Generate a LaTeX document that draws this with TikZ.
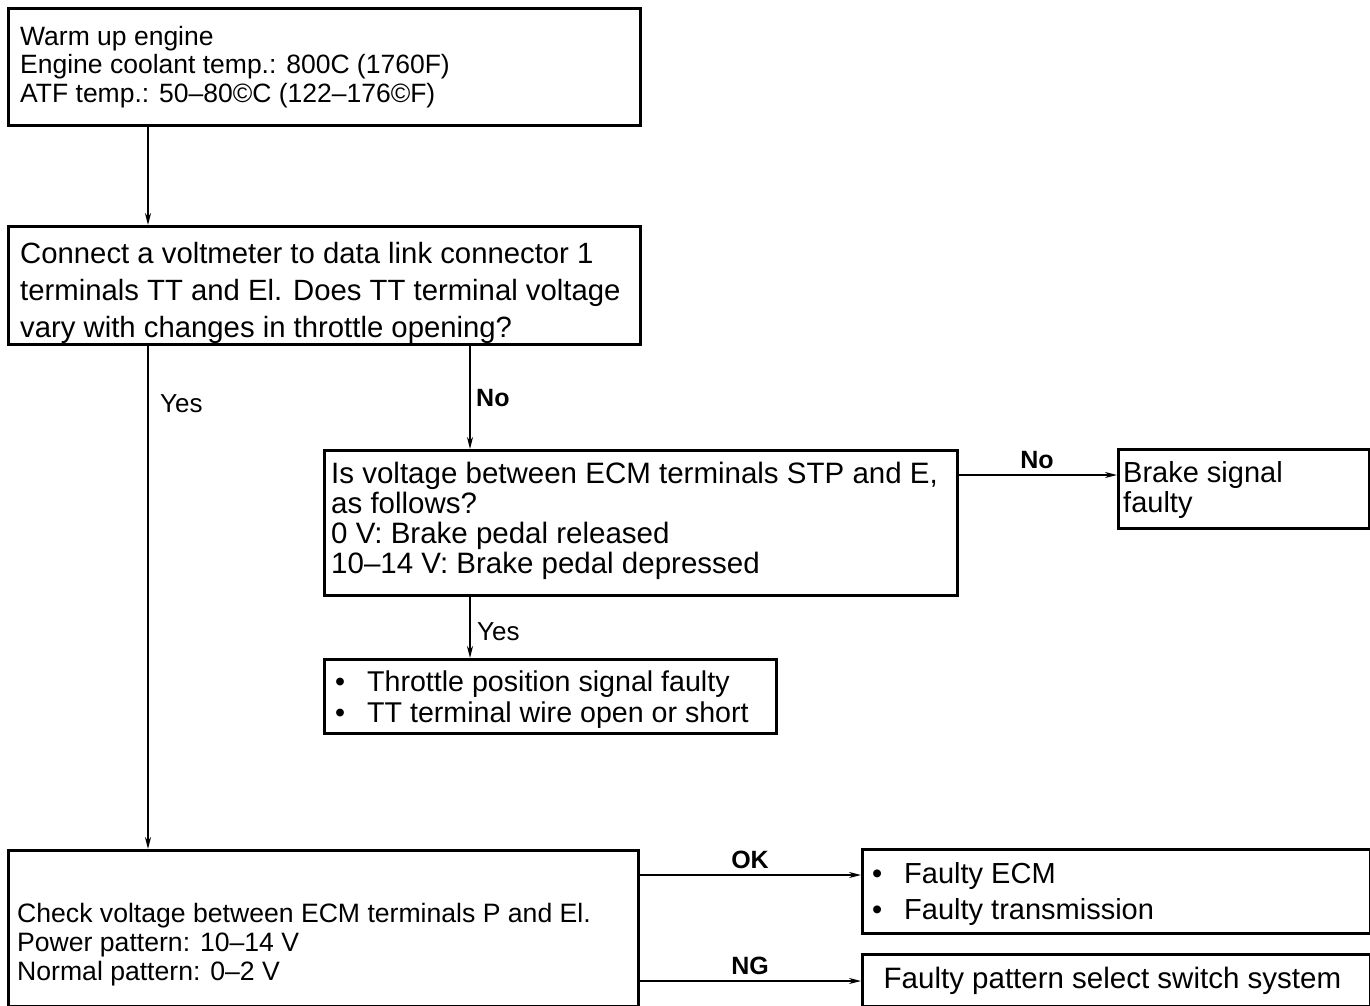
\documentclass[tikz,border=0pt]{standalone}
\usepackage{fontspec}
\setmainfont{Liberation Sans}
\usetikzlibrary{arrows.meta}
\tikzset{
  box/.style={draw, line width=2.8pt, anchor=north west, inner sep=0pt},
  conn/.style={line width=1.8pt, -{Stealth[length=12pt,width=6pt]}},
  txt/.style={anchor=north west, align=left, inner sep=0pt},
  lbl/.style={inner sep=0pt, font=\fontsize{26}{28}\selectfont},
  blbl/.style={inner sep=0pt, font=\fontsize{25}{28}\selectfont\bfseries},
}
\newcommand{\bul}{\makebox[32pt][l]{\textbullet}}
\begin{document}
\begin{tikzpicture}[x=1pt,y=-1pt]
\useasboundingbox[fill=white] (0,0) rectangle (1370,1006);
% boxes
\node[box, minimum width=632pt, minimum height=117pt] (b1) at (7,7) {};
\node[box, minimum width=632pt, minimum height=118pt] (b2) at (7,225) {};
\node[box, minimum width=633pt, minimum height=145pt] (b3) at (323,449) {};
\node[box, minimum width=251pt, minimum height=79pt] (bB) at (1117,448) {};
\node[box, minimum width=452pt, minimum height=74pt] (b4) at (323,658) {};
\node[box, minimum width=630pt, minimum height=156pt] (b5) at (7,849) {};
\node[box, minimum width=508pt, minimum height=84pt] (bOK) at (861,848) {};
\node[box, minimum width=508pt, minimum height=52pt] (bNG) at (861,953) {};
% texts
\node[txt, font=\fontsize{26.5}{28.5}\selectfont] (t1) at (20,26) {Warm up engine\\Engine coolant temp.: 800C (1760F)\\ATF temp.: 50–80©C (122–176©F)};
\node[txt, font=\fontsize{29.3}{37}\selectfont] (t2) at (20,242.5) {Connect a voltmeter to data link connector 1\\terminals TT and El. Does TT terminal voltage\\vary with changes in throttle opening?};
\node[txt, font=\fontsize{29.5}{30}\selectfont] (t3) at (331,462) {Is voltage between ECM terminals STP and E,\\as follows?\\0 V: Brake pedal released\\10–14 V: Brake pedal depressed};
\node[txt, font=\fontsize{29}{30}\selectfont] (tB) at (1123,461) {Brake signal\\faulty};
\node[txt, font=\fontsize{28.6}{31}\selectfont] (t4) at (335,671) {\bul Throttle position signal faulty\\\bul TT terminal wire open or short};
\node[txt, font=\fontsize{26.6}{29}\selectfont] (t5) at (17,903.5) {Check voltage between ECM terminals P and El.\\Power pattern: 10–14 V\\Normal pattern: 0–2 V};
\node[txt, font=\fontsize{29}{36}\selectfont] (tOK) at (872,862) {\bul Faulty ECM\\\bul Faulty transmission};
\node[inner sep=0pt, font=\fontsize{29.5}{30}\selectfont] (tNG) at ([xshift=-4pt]bNG.center) {Faulty pattern select switch system};
% connectors
\coordinate (xa) at (148,0);
\coordinate (xb) at (470,0);
\coordinate (yb) at (0,475);
\coordinate (yok) at (0,875);
\coordinate (yng) at (0,981);
\draw[conn] (b1.south -| xa) -- (b2.north -| xa);
\draw[conn] (b2.south -| xa) -- (b5.north -| xa);
\draw[conn] (b2.south -| xb) -- (b3.north -| xb);
\draw[conn] (b3.east |- yb) -- (bB.west |- yb);
\draw[conn] (b3.south -| xb) -- (b4.north -| xb);
\draw[conn] (b5.east |- yok) -- (bOK.west |- yok);
\draw[conn] (b5.east |- yng) -- (bNG.west |- yng);
% connector labels
\node[lbl, anchor=west] (lyes1) at (160,404) {Yes};
\node[blbl, anchor=west] (lno1) at (476,398) {No};
\node[blbl] (lno2) at (1037,460) {No};
\node[lbl, anchor=west] (lyes2) at (477,632) {Yes};
\node[blbl] (lok) at (750,860) {OK};
\node[blbl] (lng) at (750,966) {NG};
\end{tikzpicture}
\end{document}
